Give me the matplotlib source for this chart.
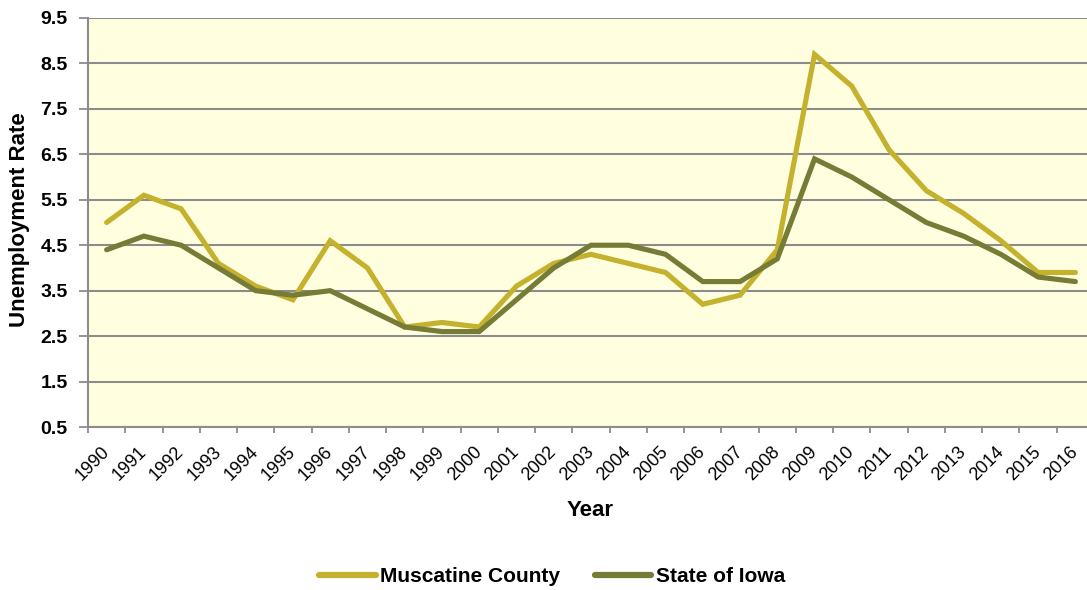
import matplotlib.pyplot as plt
import matplotlib.transforms as mtransforms
import numpy as np

YEARS = [str(y) for y in range(1990, 2017)]
MUSCATINE = [5.0, 5.6, 5.3, 4.1, 3.6, 3.3, 4.6, 4.0, 2.7, 2.8, 2.7, 3.6, 4.1, 4.3,
             4.1, 3.9, 3.2, 3.4, 4.4, 8.7, 8.0, 6.6, 5.7, 5.2, 4.6, 3.9, 3.9]
IOWA = [4.4, 4.7, 4.5, 4.0, 3.5, 3.4, 3.5, 3.1, 2.7, 2.6, 2.6, 3.3, 4.0, 4.5,
        4.5, 4.3, 3.7, 3.7, 4.2, 6.4, 6.0, 5.5, 5.0, 4.7, 4.3, 3.8, 3.7]
Y_TICKS = [0.5, 1.5, 2.5, 3.5, 4.5, 5.5, 6.5, 7.5, 8.5, 9.5]

plt.rcParams["font.family"] = ["Liberation Sans", "DejaVu Sans"]

W, H = 1087, 590
GRID = "#8C8C8C"
fig = plt.figure(figsize=(W / 100, H / 100), dpi=100)
# plot area runs a little past the right edge of the image, as in the original
ax = fig.add_axes([88 / W, 1 - 427 / H, (1094 - 88) / W, (427 - 18) / H])
ax.set_facecolor("#FFFFE0")

x = np.arange(len(YEARS)) + 0.5
ax.plot(x, MUSCATINE, color="#C4B12D", lw=3.7, solid_joinstyle="miter",
        solid_capstyle="round", label="Muscatine County", zorder=3)
ax.plot(x, IOWA, color="#767B35", lw=3.7, solid_joinstyle="miter",
        solid_capstyle="round", label="State of Iowa", zorder=3)

ax.set_xlim(0, len(YEARS))
ax.set_ylim(0.5, 9.5)
ax.set_yticks(Y_TICKS)
ax.set_yticklabels([f"{v:.1f}" for v in Y_TICKS], fontsize=14, fontweight="bold")
ax.yaxis.grid(True, color=GRID, lw=1.5)
ax.set_axisbelow(True)

# category boundaries get the tick marks, labels sit at category centres
ax.set_xticks(np.arange(len(YEARS) + 1))
ax.set_xticklabels([])
ax.set_xticks(x, minor=True)
ax.set_xticklabels(YEARS, minor=True, rotation=45, ha="right", va="top",
                   rotation_mode="anchor", fontsize=13)
ax.tick_params(axis="x", which="minor", length=0, pad=11.5)
ax.tick_params(axis="x", which="major", length=4.5, width=1.3, color=GRID)
ax.tick_params(axis="y", length=6.5, width=1.3, color=GRID, pad=8)
shift = mtransforms.ScaledTranslation(-6 / 100, 0, fig.dpi_scale_trans)
for lab in ax.xaxis.get_minorticklabels():
    lab.set_transform(lab.get_transform() + shift)

for side in ["top", "right"]:
    ax.spines[side].set_visible(False)
for side in ["left", "bottom"]:
    ax.spines[side].set_color(GRID)
    ax.spines[side].set_linewidth(1.5)

fig.text(20 / W, 1 - 220 / H, "Unemployment Rate", rotation=90, fontsize=16,
         fontweight="bold", ha="center", va="center")
fig.text(590 / W, 1 - 511 / H, "Year", fontsize=16, fontweight="bold",
         ha="center", va="center")

leg = fig.legend(loc="center", bbox_to_anchor=(552 / W, 1 - 577 / H), ncol=2,
                 frameon=False, prop={"size": 15, "weight": "bold"},
                 handlelength=2.7, handletextpad=0.2, columnspacing=1.7)
for line in leg.get_lines():
    line.set_linewidth(4.5)

fig.savefig("out.png", dpi=100)
